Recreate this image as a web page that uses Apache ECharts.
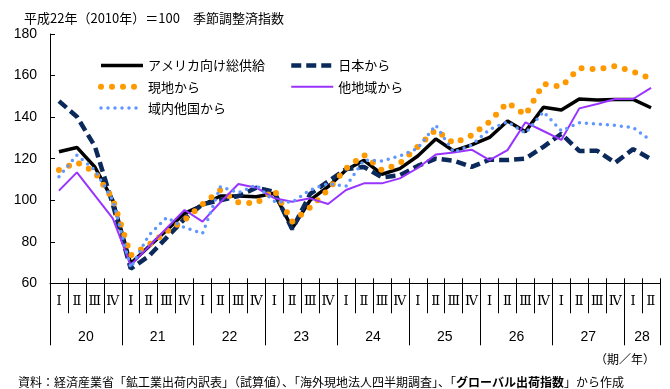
<!DOCTYPE html>
<html>
<head>
<meta charset="utf-8">
<script src="https://cdn.jsdelivr.net/npm/echarts@6/dist/echarts.min.js"></script>
<style>
html,body{margin:0;padding:0;background:#fff;}
#main{width:670px;height:389px;}
</style>
</head>
<body>
<div id="main"></div>
<script>
// ---- data ----
const quarterLabels = ['Ⅰ','Ⅱ','Ⅲ','Ⅳ'];
const years = ['20','21','22','23','24','25','26','27','28'];
const quartersPerYear = [4,4,4,4,4,4,4,4,2];
const yTicks = [60, 80, 100, 120, 140, 160, 180];

const seriesNames = ['アメリカ向け総供給','日本から','現地から','他地域から','域内他国から'];
const totalSupply = [123.3,125.4,116,100,69.5,77.6,85.6,93.7,97.7,102,102,101.7,103.3,86.5,100,106.5,114.5,119.2,112.5,115.2,121.3,129.5,123.7,126.6,130.2,138.1,133,144.7,143.4,148.7,148.2,148.5,148.5,144.5];
const fromJapan = [147.7,140.2,126,98,67,73,82,91,98,100,102,106,104,86,103,109,115,116,111,112,116.5,120,119,116,119.5,119.3,120,125.7,131.9,123.7,123.8,118,124.6,119.8];
const fromLocal = [114.5,118.2,113.5,100.5,73.5,78.4,84.8,90.5,98,104.9,99,98.5,104.9,89.7,96.5,105,115.3,121.8,114.4,117.7,125.8,133.8,127.4,131.2,137.8,147,141,156,154.6,163.6,163,164.6,161.8,158.6];
const fromOtherRegion = [104.6,113.4,102.3,91.3,68.8,77.6,86.5,95.3,89.7,99,107.8,106,101,99.3,100.9,98.2,104.9,108.1,108.1,110.5,115.5,122,123,124.3,119.3,124.1,137.5,133.3,129,144.2,146.3,148.7,148.7,154.1];
const fromIntraRegion = [111.3,121.7,114.5,100,67.5,83,91.7,86.8,84,106.5,103.6,107.3,99.5,99,104.9,108,106.7,119.3,118.9,121.3,125,136.2,123,126.6,134,137.8,132.2,142.6,133.4,137.3,136.7,136,135,128.6];

// ---- build axes ----
const quarterCats = [];
const yearBoundaries = [0];
const yearLabelPos = {};
let pos = 0;
years.forEach((y, i) => {
  const n = quartersPerYear[i];
  for (let q = 0; q < n; q++) quarterCats.push(quarterLabels[q]);
  yearLabelPos[pos + n / 2] = y;
  pos += n;
  yearBoundaries.push(pos);
});
const yearAxisData = [];
for (let i = 0; i <= pos; i++) yearAxisData.push(yearLabelPos[i] !== undefined ? yearLabelPos[i] : '');

const jp = "'Noto Sans CJK JP', sans-serif";
const chart = echarts.init(document.getElementById('main'), null, {renderer: 'canvas'});

const lineStyles = [
  {color: '#000000', width: 3.5, type: 'solid'},
  {color: '#0b2a5b', width: 4.5, type: [10, 5], cap: 'butt'},
  {color: '#ff9900', width: 6, type: [0, 11], cap: 'round'},
  {color: '#9933ff', width: 2, type: 'solid'},
  {color: '#5f97ff', width: 3.5, type: [0, 7], cap: 'round'}
];
const values = [totalSupply, fromJapan, fromLocal, fromOtherRegion, fromIntraRegion];

const legendCommon = {
  orient: 'vertical', top: 59, itemWidth: 42, itemHeight: 14, itemGap: 8.3, padding: 0,
  selectedMode: false,
  itemStyle: {color: 'rgba(0,0,0,0)', borderColor: 'rgba(0,0,0,0)', borderWidth: 0, opacity: 0},
  lineStyle: {width: 'inherit', type: 'inherit', color: 'inherit'},
  textStyle: {fontSize: 13, color: '#000', fontFamily: jp}
};

const option = {
  backgroundColor: '#ffffff',
  animation: false,
  title: [
    {text: '平成22年（2010年）＝100　季節調整済指数', left: 19, top: 7,
     textStyle: {fontSize: 13, fontWeight: 'normal', color: '#000', fontFamily: jp}},
    {text: '（期／年）', right: 10, top: 348,
     textStyle: {fontSize: 12, fontWeight: 'normal', color: '#000', fontFamily: jp}},
    {text: '{a|資料：経済産業省「鉱工業出荷内訳表」（試算値）、「海外現地法人四半期調査」、「}{b|グローバル出荷指数}{a|」から作成}',
     left: 13, top: 371,
     textStyle: {fontWeight: 'normal', fontSize: 12, color: '#000', fontFamily: jp, rich: {
       a: {fontSize: 12, color: '#000', fontFamily: jp, fontWeight: 'normal'},
       b: {fontSize: 12, color: '#000', fontFamily: jp, fontWeight: 'bold'}
     }}}
  ],
  legend: [
    Object.assign({data: [seriesNames[0], seriesNames[2], seriesNames[4]], left: 98}, legendCommon),
    Object.assign({data: [seriesNames[1], seriesNames[3]], left: 289}, legendCommon)
  ],
  grid: {left: 50, right: 10, top: 34, bottom: 105.7, containLabel: false},
  xAxis: [
    {type: 'category', data: quarterCats, boundaryGap: true, position: 'bottom',
     axisLine: {show: true, lineStyle: {color: '#000', width: 1}},
     axisTick: {show: true, interval: 0, length: 30, lineStyle: {color: '#000'}},
     axisLabel: {interval: 0, margin: 12, fontSize: 13, color: '#000',
       fontFamily: "'DejaVu Serif', 'Liberation Serif', serif"},
     splitLine: {show: false}},
    {type: 'category', data: quarterCats, boundaryGap: true, position: 'bottom',
     axisLine: {show: false},
     axisTick: {show: true, inside: true, interval: 0, length: 5, lineStyle: {color: '#000'}},
     axisLabel: {show: false}, splitLine: {show: false}},
    {type: 'category', data: yearAxisData, boundaryGap: false, position: 'bottom',
     axisLine: {show: false},
     axisTick: {show: true, length: 62, lineStyle: {color: '#000'},
       interval: function (idx) { return yearBoundaries.indexOf(idx) >= 0; }},
     axisLabel: {interval: 0, margin: 47, fontSize: 14, color: '#000',
       fontFamily: "'Liberation Sans', sans-serif"},
     splitLine: {show: false}}
  ],
  yAxis: {
    type: 'value', min: yTicks[0], max: yTicks[yTicks.length - 1], interval: 20,
    axisLine: {show: true, lineStyle: {color: '#000', width: 1}},
    axisTick: {show: true, inside: true, length: 5, lineStyle: {color: '#000'}},
    axisLabel: {fontSize: 14, color: '#000', margin: 13, fontFamily: "'Liberation Sans', sans-serif"},
    splitLine: {show: false}
  },
  series: seriesNames.map((name, i) => ({
    name: name, type: 'line', xAxisIndex: 0, data: values[i],
    symbol: 'none', showSymbol: false, smooth: false, z: 2 + i,
    lineStyle: lineStyles[i], itemStyle: {color: lineStyles[i].color},
    emphasis: {disabled: true}
  }))
};
chart.setOption(option);
</script>
</body>
</html>
